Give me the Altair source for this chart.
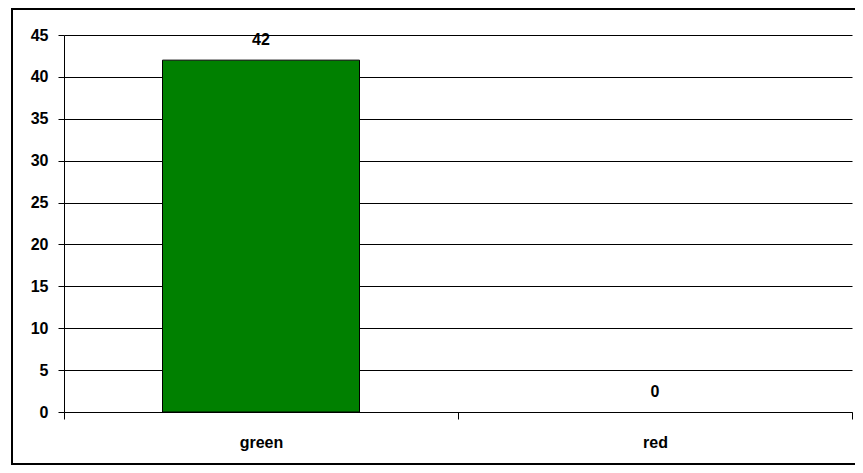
import altair as alt
import pandas as pd

categories = ["green", "red"]
values = [42, 0]
colors = ["#008000", "#ff0000"]
y_ticks = [0, 5, 10, 15, 20, 25, 30, 35, 40, 45]

df = pd.DataFrame({"cat": categories, "val": values, "color": colors})

FONT = "Liberation Sans"

x_enc = alt.X(
    "cat:N",
    sort=categories,
    scale=alt.Scale(paddingInner=0, paddingOuter=0),
    axis=alt.Axis(
        title=None, labelAngle=0, tickBand="extent", grid=False,
        domainColor="#000000", domainWidth=1, tickColor="#000000", tickSize=7,
        labelFont=FONT, labelFontSize=16, labelFontWeight="bold", labelColor="#000000",
        labelBaseline="alphabetic", labelPadding=28,
    ),
)
y_enc = alt.Y(
    "val:Q",
    scale=alt.Scale(domain=[0, 45], nice=False),
    axis=alt.Axis(
        title=None, values=y_ticks, grid=True, gridColor="#000000", gridOpacity=1,
        domainColor="#000000", tickColor="#000000", tickSize=6,
        labelFont=FONT, labelFontSize=16, labelFontWeight="bold", labelColor="#000000",
        labelPadding=10,
    ),
)

bars = alt.Chart(df).transform_filter("datum.val > 0").mark_bar(
    stroke="#000000", strokeWidth=1, width={"band": 0.5}
).encode(
    x=x_enc,
    y=y_enc,
    color=alt.Color("color:N", scale=None),
)

labels = alt.Chart(df).mark_text(
    font=FONT, fontSize=16, fontWeight="bold", color="#000000",
    baseline="alphabetic", dy=-15,
).encode(
    x=alt.X("cat:N", sort=categories),
    y=alt.Y("val:Q"),
    text=alt.Text("val:Q"),
)

frame = alt.Chart(alt.Data(values=[{"f": 1}])).mark_rect(
    fill=None, stroke="#000000", strokeWidth=2
).encode(
    x=alt.value(-52), x2=alt.value(810),
    y=alt.value(-26), y2=alt.value(429),
)

chart = alt.layer(bars, labels, frame).properties(
    width=788, height=377,
    autosize=alt.AutoSizeParams(type="none"),
    padding={"left": 56, "top": 27, "right": 3, "bottom": 53},
    background="#ffffff",
).configure_view(stroke=None)

chart.save("out.html", embed_options={"renderer": "svg", "actions": False})
